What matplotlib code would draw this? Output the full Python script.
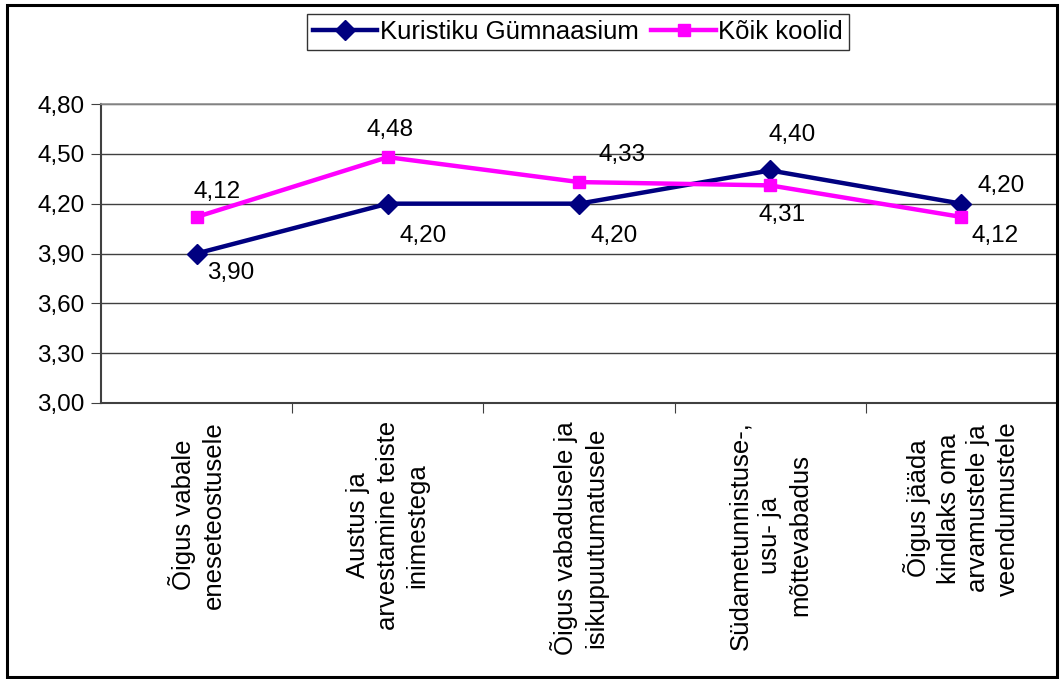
import matplotlib.pyplot as plt
from matplotlib.patches import Rectangle

plt.rcParams["font.family"] = ["Liberation Sans", "DejaVu Sans"]

categories = [
    "Õigus vabale\neneseteostusele",
    "Austus ja\narvestamine teiste\ninimestega",
    "Õigus vabadusele ja\nisikupuutumatusele",
    "Südametunnistuse-,\nusu- ja\nmõttevabadus",
    "Õigus jääda\nkindlaks oma\narvamustele ja\nveendumustele",
]
kuristiku = [3.90, 4.20, 4.20, 4.40, 4.20]
koik = [4.12, 4.48, 4.33, 4.31, 4.12]
yticks = [3.00, 3.30, 3.60, 3.90, 4.20, 4.50, 4.80]

# label offsets in pixels (dx, dy) relative to each point
kur_offsets = [(34, -20), (35, -32), (35, -32), (22, 35), (40, 18)]
koik_offsets = [(20, 25), (2, 27), (43, 27), (12, -30), (34, -19)]

NAVY = "#000080"
MAGENTA = "#FF00FF"

fig = plt.figure(figsize=(10.6, 6.79), dpi=100)
ax = fig.add_axes([101 / 1060, 1 - 403 / 679, 956 / 1060, 299 / 679])

x = list(range(len(categories)))
ax.plot(x, kuristiku, color=NAVY, lw=3.2, marker="D", ms=10, label="Kuristiku Gümnaasium", zorder=3)
ax.plot(x, koik, color=MAGENTA, lw=3.2, marker="s", ms=8, label="Kõik koolid", zorder=3)

for xi, v, (dx, dy) in zip(x, kuristiku, kur_offsets):
    ax.annotate(f"{v:.2f}".replace(".", ","), (xi, v), xytext=(dx, dy),
                textcoords="offset pixels", ha="center", va="center", fontsize=17.5)
for xi, v, (dx, dy) in zip(x, koik, koik_offsets):
    ax.annotate(f"{v:.2f}".replace(".", ","), (xi, v), xytext=(dx, dy),
                textcoords="offset pixels", ha="center", va="center", fontsize=17.5)

ax.set_xlim(-0.5, len(categories) - 0.5)
ax.set_ylim(3.0, 4.8)
ax.set_yticks(yticks)
ax.set_yticklabels([f"{t:.2f}".replace(".", ",") for t in yticks], fontsize=17.5)
ax.yaxis.grid(True, color="#404040", lw=1)
ax.set_axisbelow(True)
ax.tick_params(axis="y", length=7, color="#404040", pad=5)

# category boundaries as ticks, labels as rotated text
ax.set_xticks([i + 0.5 for i in range(len(categories) - 1)])
ax.set_xticklabels([])
ax.tick_params(axis="x", length=7, color="#404040", direction="out")
for xi, c in zip(x, categories):
    ax.text(xi, -0.06, c, transform=ax.get_xaxis_transform(), rotation=90,
            ha="center", va="top", multialignment="center", fontsize=18.5, linespacing=1.3)

for side in ["left", "bottom"]:
    ax.spines[side].set_color("#404040")
    ax.spines[side].set_linewidth(1.5)
for side in ["top", "right"]:
    ax.spines[side].set_color("#909090")
    ax.spines[side].set_linewidth(1.2)

leg = fig.legend(loc="center", bbox_to_anchor=(578 / 1060, 1 - 32 / 679), ncol=2, fontsize=18.5,
                 frameon=True, fancybox=False, edgecolor="black", handlelength=2.5,
                 handletextpad=0.1, columnspacing=0.5, borderpad=0.25, borderaxespad=0)
leg.get_frame().set_linewidth(1)

fig.patches.append(Rectangle((7 / 1060, 2 / 679), 1050 / 1060, 672 / 679, transform=fig.transFigure,
                             fill=False, edgecolor="black", lw=2.2))

fig.savefig("out.png", dpi=100)
